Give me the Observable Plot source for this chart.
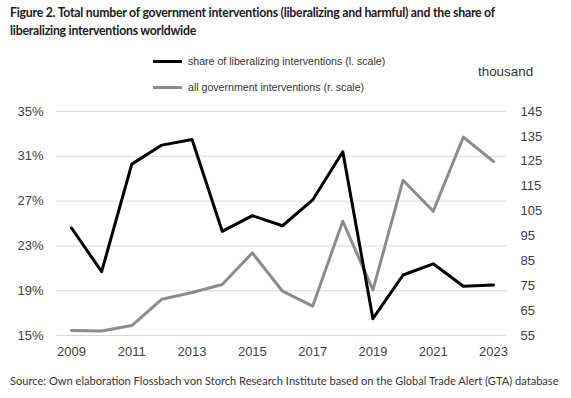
<!DOCTYPE html>
<html>
<head>
<meta charset="utf-8">
<script src="https://cdn.jsdelivr.net/npm/d3@7"></script>
<script src="https://cdn.jsdelivr.net/npm/@observablehq/plot@0.6"></script>
<style>
  body { margin: 0; background: #fff; }
  #fig { position: relative; width: 571px; height: 398px; overflow: hidden; background: #fff;
         font-family: "Liberation Sans", Arial, sans-serif; }
  .title { position: absolute; left: 10px; top: 4px; font-family: Lato, "Noto Sans", sans-serif;
           font-weight: bold; font-size: 12.3px; letter-spacing: -0.25px; line-height: 18px; color: #1a1a1a; white-space: nowrap; }
  .leg { position: absolute; left: 153px; font-size: 10.6px; color: #333; white-space: nowrap;
         display: flex; align-items: center; }
  .leg .sw { width: 29px; height: 3px; margin-right: 6px; }
  .unit { position: absolute; left: 478px; top: 64px; font-size: 13.4px; color: #333; }
  .src { position: absolute; left: 10px; top: 374px; font-family: Lato, "Noto Sans", sans-serif;
         font-size: 11.1px; color: #333; white-space: nowrap; }
  #chart { position: absolute; left: 0; top: 96px; }
</style>
</head>
<body>
<div id="fig">
  <div class="title">Figure 2. Total number of government interventions (liberalizing and harmful) and the share of<br>liberalizing interventions worldwide</div>
  <div id="legend"></div>
  <div class="unit">thousand</div>
  <div id="chart"></div>
  <div class="src">Source: Own elaboration Flossbach von Storch Research Institute based on the Global Trade Alert (GTA) database</div>
</div>
<script>
// ---- data ----
const years = [2009, 2010, 2011, 2012, 2013, 2014, 2015, 2016, 2017, 2018, 2019, 2020, 2021, 2022, 2023];
const shareLiberalizing = [24.6, 20.7, 30.3, 32.0, 32.5, 24.3, 25.7, 24.8, 27.1, 31.4, 16.5, 20.4, 21.4, 19.4, 19.5];
const allInterventions = [57.0, 56.8, 59.0, 69.6, 72.3, 75.5, 88.2, 72.8, 66.8, 100.9, 73.3, 117.4, 104.9, 134.7, 124.9];
const seriesNames = ["share of liberalizing interventions (l. scale)", "all government interventions (r. scale)"];
const seriesColors = ["#000000", "#8c8c8c"];
const leftTicks = [15, 19, 23, 27, 31, 35];
const rightTicks = [55, 65, 75, 85, 95, 105, 115, 125, 135, 145];
const xTicks = [2009, 2011, 2013, 2015, 2017, 2019, 2021, 2023];

// right scale (55..145) mapped onto left scale (15..35)
const toLeft = v => 15 + (v - 55) * 20 / 90;
const toRight = p => 55 + (p - 15) * 90 / 20;

const rows = years.map((y, i) => ({year: y, share: shareLiberalizing[i], all: toLeft(allInterventions[i])}));

// legend
const legend = document.getElementById("legend");
seriesNames.forEach((name, i) => {
  const d = document.createElement("div");
  d.className = "leg";
  d.style.top = (i === 0 ? 55 : 81) + "px";
  d.innerHTML = `<span class="sw" style="background:${seriesColors[i]}"></span><span>${name}</span>`;
  legend.appendChild(d);
});

const chart = Plot.plot({
  width: 571,
  height: 270,
  marginLeft: 56,
  marginRight: 64,
  marginTop: 15,
  marginBottom: 31,
  style: {fontSize: "13px", fontFamily: "'Liberation Sans', Arial, sans-serif", color: "#404040", background: "#fff"},
  x: {domain: [2009, 2023], insetLeft: 15, insetRight: 14},
  y: {domain: [15, 35]},
  marks: [
    Plot.ruleY(leftTicks, {stroke: "#d9d9d9", strokeWidth: 1}),
    Plot.axisY(leftTicks, {anchor: "left", tickSize: 0, tickPadding: 13, label: null, tickFormat: d => d + "%"}),
    Plot.axisY(rightTicks.map(toLeft), {anchor: "right", tickSize: 0, tickPadding: 13, label: null, tickFormat: d => String(Math.round(toRight(d)))}),
    Plot.axisX(xTicks, {anchor: "bottom", tickSize: 0, tickPadding: 11, label: null, tickFormat: d => String(d)}),
    Plot.line(rows, {x: "year", y: "all", stroke: seriesColors[1], strokeWidth: 3}),
    Plot.line(rows, {x: "year", y: "share", stroke: seriesColors[0], strokeWidth: 3})
  ]
});
document.getElementById("chart").appendChild(chart);
</script>
</body>
</html>
